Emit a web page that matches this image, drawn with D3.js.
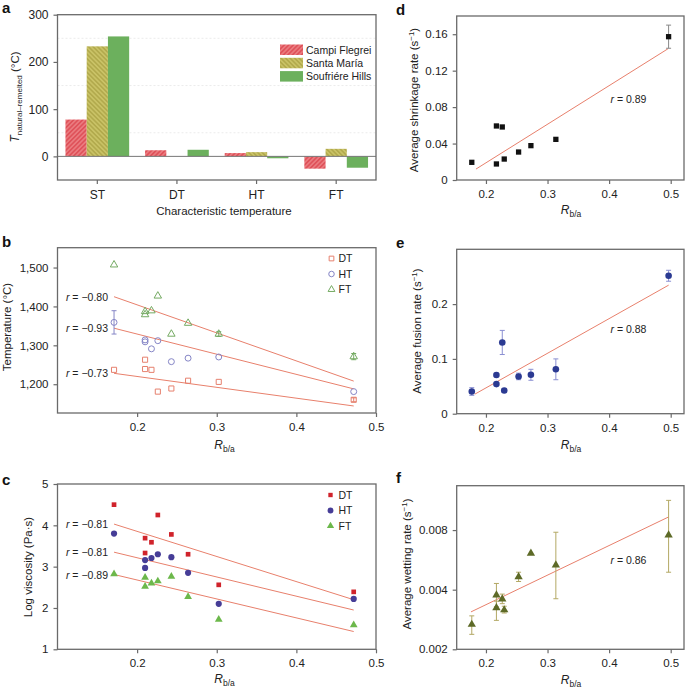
<!DOCTYPE html>
<html><head><meta charset="utf-8">
<script src="https://cdn.jsdelivr.net/npm/d3@7"></script>
<style>body{margin:0;background:#fff} svg text{font-family:"Liberation Sans",Arial,Helvetica,sans-serif}</style>
</head><body><svg id="c" width="685" height="690"></svg>
<script>
// ---------- DATA ----------
// panel a
const categoriesA = ["ST", "DT", "HT", "FT"];
const seriesA = ["Campi Flegrei", "Santa María", "Soufriére Hills"];
const campiFlegrei = [78, 13, 7, -26];
const santaMaria = [233, 0, 9, 16];
const soufriereHills = [254, 14, -4, -24];
const ticksA = [0, 100, 200, 300];
const gridA = [50, 150, 250];

// panels b, c (shared R_b/a of samples)
const rbaLeft = [0.171, 0.21, 0.21, 0.218, 0.226, 0.243, 0.264, 0.3025, 0.472];
const tempDT = [1237, 1263, 1239, 1237, 1181, 1189, 1209, 1206, 1160];
const tempHT = [1359, 1314, 1309, 1291, 1312, 1258, 1267, 1270, 1181];
const tempFT = [1507, 1387, 1379, 1389, 1427, 1329, 1357, 1329, 1271];
const tempDTerr = [0, 0, 0, 0, 0, 0, 0, 0, 5];
const tempHTerr = [30, 0, 0, 0, 0, 0, 0, 0, 0];
const tempFTerr = [0, 0, 0, 0, 0, 0, 0, 6, 8];
const fitXLeft = [0.171, 0.472];
const fitTempFT = [1425, 1208];
const fitTempHT = [1344, 1188];
const fitTempDT = [1228, 1144];
const rTemp = ["r = −0.80", "r = −0.93", "r = −0.73"];
const ticksTemp = [1200, 1300, 1400, 1500];

const viscDT = [4.50, 3.69, 3.33, 3.59, 4.25, 3.78, 3.30, 2.56, 2.39];
const viscHT = [3.80, 3.16, 2.97, 3.21, 3.30, 3.23, 2.85, 2.10, 2.22];
const viscFT = [2.82, 2.74, 2.52, 2.60, 2.65, 2.76, 2.27, 1.72, 1.59];
const fitViscDT = [4.03, 2.20];
const fitViscHT = [3.35, 1.95];
const fitViscFT = [2.81, 1.43];
const rVisc = ["r = −0.81", "r = −0.81", "r = −0.89"];
const ticksVisc = [1, 2, 3, 4, 5];
const ticksRbaLeft = [0.2, 0.3, 0.4, 0.5];
const legendLeft = ["DT", "HT", "FT"];

// panels d, e, f
const rbaRight = [0.177, 0.217, 0.217, 0.2265, 0.2297, 0.253, 0.273, 0.3135, 0.4966];
const shrink = [0.0194, 0.0176, 0.0593, 0.0582, 0.023, 0.0307, 0.0377, 0.0446, 0.1573];
const shrinkErr = [0, 0, 0, 0, 0, 0, 0, 0, 0.0127];
const fitShrinkX = [0.1838, 0.4955];
const fitShrink = [0.012, 0.144];
const ticksShrink = [0, 0.04, 0.08, 0.12, 0.16];

const fusion = [0.0405, 0.054, 0.0707, 0.130, 0.0424, 0.068, 0.071, 0.081, 0.2517];
const fusionErr = [0.007, 0.003, 0.003, 0.022, 0.003, 0.006, 0.01, 0.019, 0.01];
const fitFusionX = [0.182, 0.4967];
const fitFusion = [0.0357, 0.2346];
const ticksFusion = [0, 0.1, 0.2];

const wetting = [0.00267, 0.00324, 0.00376, 0.00359, 0.00316, 0.00465, 0.0061, 0.00532, 0.00754];
const wettingLo = [0.00238, 0.0028, 0.00328, 0.0034, 0.00305, 0.0044, 0.0061, 0.0036, 0.0049];
const wettingHi = [0.00295, 0.0035, 0.0043, 0.0038, 0.0033, 0.0049, 0.0061, 0.0078, 0.0113];
const fitWettingX = [0.1757, 0.4967];
const fitWetting = [0.00309, 0.00932];
const ticksWetting = [0.002, 0.004, 0.008];
const ticksRbaRight = [0.2, 0.3, 0.4, 0.5];
const rRight = ["r = 0.89", "r = 0.88", "r = 0.86"];

// ---------- DRAWING ----------
const svg = d3.select("#c");
const FONT = '"Liberation Sans", Arial, Helvetica, sans-serif';
const FRAME = "#6a6a6a";
const TXT = "#222";
const FIT = "#e8806c";

const defs = svg.append("defs");
function hatch(id, base, stripe, angle) {
  const p = defs.append("pattern").attr("id", id).attr("patternUnits", "userSpaceOnUse")
    .attr("width", 3.2).attr("height", 3.2).attr("patternTransform", `rotate(${angle})`);
  p.append("rect").attr("width", 3.2).attr("height", 3.2).attr("fill", base);
  p.append("line").attr("x1", 0.8).attr("y1", 0).attr("x2", 0.8).attr("y2", 3.2)
    .attr("stroke", stripe).attr("stroke-width", 1.1);
}
hatch("hCF", "#df525a", "#ef8d90", 45);
hatch("hSM", "#c9c266", "#a89f42", -45);
const fillsA = ["url(#hCF)", "url(#hSM)", "#6cb05d"];

function frame(L, T, R, B) {
  svg.append("rect").attr("x", L).attr("y", T).attr("width", R - L).attr("height", B - T)
    .attr("fill", "none").attr("stroke", FRAME).attr("stroke-width", 1.3);
}
function styleAxis(g) {
  g.select(".domain").remove();
  g.attr("font-family", FONT).attr("font-size", 11.5);
  g.selectAll(".tick line").attr("stroke", FRAME).attr("stroke-width", 1.2);
  g.selectAll(".tick text").attr("fill", TXT);
}
function panelLetter(s, x, y) {
  svg.append("text").attr("x", x).attr("y", y).attr("font-size", 15).attr("font-weight", "bold")
    .attr("fill", "#111").text(s);
}
function rbaTitle(cx, y) {
  const t = svg.append("text").attr("x", cx).attr("y", y).attr("text-anchor", "middle")
    .attr("font-size", 12).attr("fill", TXT);
  t.append("tspan").attr("font-style", "italic").text("R");
  t.append("tspan").attr("font-size", 8.5).attr("dy", 3).text("b/a");
}
function yTitle(x, cy, parts) {
  const t = svg.append("text").attr("transform", `translate(${x},${cy}) rotate(-90)`)
    .attr("text-anchor", "middle").attr("font-size", 11.5).attr("fill", TXT);
  parts.forEach(p => {
    const s = t.append("tspan").text(p.t);
    if (p.i) s.attr("font-style", "italic");
    if (p.fs) s.attr("font-size", p.fs);
    if (p.dy) s.attr("dy", p.dy);
  });
}
const fmt2 = d => d === 0 ? "0" : String(d);

// ===== Panel a =====
{
  const L = 57.5, T = 14.7, R = 376, B = 180;
  const x = d3.scaleBand().domain(categoriesA).range([L, R]).padding(0);
  const xs = d3.scaleBand().domain(seriesA).range([0, x.bandwidth()]).paddingOuter(0.375).paddingInner(0);
  const y = d3.scaleLinear().domain([-50, 300]).range([B, T]);
  svg.append("g").selectAll("line").data(gridA).join("line")
    .attr("x1", L).attr("x2", R).attr("y1", d => y(d)).attr("y2", d => y(d))
    .attr("stroke", "#e6e6e6").attr("stroke-width", 0.8).attr("stroke-dasharray", "2,2");
  const vals = [campiFlegrei, santaMaria, soufriereHills];
  seriesA.forEach((s, si) => {
    svg.append("g").selectAll("rect").data(categoriesA).join("rect")
      .attr("x", (c) => x(c) + xs(s))
      .attr("width", xs.bandwidth())
      .attr("y", (c, i) => y(Math.max(0, vals[si][i])))
      .attr("height", (c, i) => Math.abs(y(vals[si][i]) - y(0)))
      .attr("fill", fillsA[si]);
  });
  svg.append("line").attr("x1", L).attr("x2", R).attr("y1", y(0)).attr("y2", y(0))
    .attr("stroke", "#777").attr("stroke-width", 1);
  const gx = svg.append("g").attr("transform", `translate(0,${B})`)
    .call(d3.axisBottom(x).tickSize(4).tickPadding(6));
  styleAxis(gx); gx.attr("font-size", 12);
  const gy = svg.append("g").attr("transform", `translate(${L},0)`)
    .call(d3.axisLeft(y).tickValues(ticksA).tickSize(4).tickPadding(5).tickFormat(d3.format("d")));
  styleAxis(gy); gy.attr("font-size", 12);
  frame(L, T, R, B);
  // legend
  const lg = svg.append("g");
  seriesA.forEach((s, i) => {
    lg.append("rect").attr("x", 280).attr("y", 44.5 + i * 13.3).attr("width", 23).attr("height", 10.5)
      .attr("fill", fillsA[i]);
    lg.append("text").attr("x", 306).attr("y", 53.5 + i * 13.3).attr("font-size", 10.5)
      .attr("fill", TXT).text(s);
  });
  svg.append("text").attr("x", 224).attr("y", 215).attr("text-anchor", "middle")
    .attr("font-size", 11.5).attr("fill", TXT).text("Characteristic temperature");
  yTitle(19, 97, [{t: "T", i: true, fs: 12}, {t: "natural–remelted", fs: 8, dy: 3}, {t: " (°C)", dy: -3}]);
  panelLetter("a", 2, 13);
}

// ===== generic scatter =====
function symbolPath(type, size) { return d3.symbol().type(type).size(size)(); }

// ===== Panel b =====
{
  const L = 57.5, T = 247.7, R = 376, B = 413;
  const x = d3.scaleLinear().domain([0.1, 0.5]).range([L, R]);
  const y = d3.scaleLinear().domain([1126, 1551]).range([B, T]);
  const cols = ["#e6806e", "#8585c6", "#74aa62"];
  const types = [d3.symbolSquare, d3.symbolCircle, d3.symbolTriangle];
  const sizes = [26, 28, 24];
  const ser = [tempDT, tempHT, tempFT];
  const errs = [tempDTerr, tempHTerr, tempFTerr];
  // fits
  const fits = [fitTempFT, fitTempHT, fitTempDT];
  fits.forEach((f, i) => {
    svg.append("line").attr("x1", x(fitXLeft[0])).attr("x2", x(fitXLeft[1]))
      .attr("y1", y(f[0])).attr("y2", y(f[1])).attr("stroke", FIT).attr("stroke-width", 1);
    const t = svg.append("text").attr("x", 108).attr("y", y(f[0]) + 4).attr("text-anchor", "end")
      .attr("font-size", 10.5).attr("fill", TXT);
    t.append("tspan").attr("font-style", "italic").text("r");
    t.append("tspan").text(rTemp[i].slice(1));
  });
  ser.forEach((s, si) => {
    const g = svg.append("g");
    s.forEach((v, i) => {
      if (errs[si][i] > 0) {
        const cx = x(rbaLeft[i]), y0 = y(v - errs[si][i]), y1 = y(v + errs[si][i]);
        g.append("path").attr("d", `M${cx},${y0}V${y1}M${cx - 2.5},${y0}H${cx + 2.5}M${cx - 2.5},${y1}H${cx + 2.5}`)
          .attr("stroke", cols[si]).attr("stroke-width", 1).attr("fill", "none");
      }
    });
    g.selectAll("path.m").data(s).join("path").attr("class", "m")
      .attr("d", symbolPath(types[si], sizes[si]))
      .attr("transform", (d, i) => `translate(${x(rbaLeft[i])},${y(d)})`)
      .attr("fill", "none").attr("stroke", cols[si]).attr("stroke-width", 1);
  });
  const gx = svg.append("g").attr("transform", `translate(0,${B})`)
    .call(d3.axisBottom(x).tickValues(ticksRbaLeft).tickSize(4).tickPadding(6).tickFormat(fmt2));
  styleAxis(gx);
  const gy = svg.append("g").attr("transform", `translate(${L},0)`)
    .call(d3.axisLeft(y).tickValues(ticksTemp).tickSize(4).tickPadding(5).tickFormat(d3.format(",")));
  styleAxis(gy);
  frame(L, T, R, B);
  legendLeft.forEach((s, i) => {
    svg.append("path").attr("d", symbolPath(types[i], sizes[i] - 4))
      .attr("transform", `translate(331.5,${258.5 + i * 15.5})`)
      .attr("fill", "none").attr("stroke", cols[i]).attr("stroke-width", 1);
    svg.append("text").attr("x", 338.5).attr("y", 262.3 + i * 15.5).attr("font-size", 10.5)
      .attr("fill", TXT).text(s);
  });
  rbaTitle(224.5, 449);
  yTitle(11, 327, [{t: "Temperature (°C)"}]);
  panelLetter("b", 2, 247);
}

// ===== Panel c =====
{
  const L = 57.5, T = 484, R = 376, B = 649.3;
  const x = d3.scaleLinear().domain([0.1, 0.5]).range([L, R]);
  const y = d3.scaleLinear().domain([1, 5]).range([B, T]);
  const cols = ["#d0232b", "#463d97", "#6cb84b"];
  const types = [d3.symbolSquare, d3.symbolCircle, d3.symbolTriangle];
  const sizes = [22, 30, 26];
  const ser = [viscDT, viscHT, viscFT];
  const fits = [fitViscDT, fitViscHT, fitViscFT];
  fits.forEach((f, i) => {
    svg.append("line").attr("x1", x(fitXLeft[0])).attr("x2", x(fitXLeft[1]))
      .attr("y1", y(f[0])).attr("y2", y(f[1])).attr("stroke", FIT).attr("stroke-width", 1);
    const t = svg.append("text").attr("x", 108).attr("y", y(f[0]) + 4).attr("text-anchor", "end")
      .attr("font-size", 10.5).attr("fill", TXT);
    t.append("tspan").attr("font-style", "italic").text("r");
    t.append("tspan").text(rVisc[i].slice(1));
  });
  ser.forEach((s, si) => {
    svg.append("g").selectAll("path").data(s).join("path")
      .attr("d", symbolPath(types[si], sizes[si]))
      .attr("transform", (d, i) => `translate(${x(rbaLeft[i])},${y(d)})`)
      .attr("fill", cols[si]);
  });
  const gx = svg.append("g").attr("transform", `translate(0,${B})`)
    .call(d3.axisBottom(x).tickValues(ticksRbaLeft).tickSize(4).tickPadding(6).tickFormat(fmt2));
  styleAxis(gx);
  const gy = svg.append("g").attr("transform", `translate(${L},0)`)
    .call(d3.axisLeft(y).tickValues(ticksVisc).tickSize(4).tickPadding(5).tickFormat(d3.format("d")));
  styleAxis(gy);
  frame(L, T, R, B);
  legendLeft.forEach((s, i) => {
    svg.append("path").attr("d", symbolPath(types[i], sizes[i] - 3))
      .attr("transform", `translate(330.5,${495 + i * 15.5})`).attr("fill", cols[i]);
    svg.append("text").attr("x", 338.5).attr("y", 498.8 + i * 15.5).attr("font-size", 10.5)
      .attr("fill", TXT).text(s);
  });
  rbaTitle(224.5, 683);
  yTitle(31.5, 567, [{t: "Log viscosity (Pa·s)"}]);
  panelLetter("c", 2, 485);
}

// ===== right panels =====
function rightPanel(opt) {
  const L = 456.7, R = 684, T = opt.T, B = opt.B;
  const x = d3.scaleLinear().domain([0.1525, 0.5216]).range([L, R]);
  const y = opt.log ? d3.scaleLog().domain(opt.yd).range([B, T]) : d3.scaleLinear().domain(opt.yd).range([B, T]);
  svg.append("line").attr("x1", x(opt.fx[0])).attr("x2", x(opt.fx[1]))
    .attr("y1", y(opt.fy[0])).attr("y2", y(opt.fy[1])).attr("stroke", FIT).attr("stroke-width", 1);
  const g = svg.append("g");
  opt.vals.forEach((v, i) => {
    const lo = opt.lo[i], hi = opt.hi[i];
    if (hi - lo > 0) {
      const cx = x(rbaRight[i]), y0 = y(lo), y1 = y(hi);
      g.append("path").attr("d", `M${cx},${y0}V${y1}M${cx - 2.5},${y0}H${cx + 2.5}M${cx - 2.5},${y1}H${cx + 2.5}`)
        .attr("stroke", opt.errCol).attr("stroke-width", 1).attr("fill", "none");
    }
  });
  g.selectAll("path.m").data(opt.vals).join("path").attr("class", "m")
    .attr("d", symbolPath(opt.type, opt.size))
    .attr("transform", (d, i) => `translate(${x(rbaRight[i])},${y(d)})`)
    .attr("fill", opt.col);
  const t = svg.append("text").attr("x", 610.5).attr("y", opt.rY).attr("font-size", 10.5).attr("fill", TXT);
  t.append("tspan").attr("font-style", "italic").text("r");
  t.append("tspan").text(opt.r.slice(1));
  const gx = svg.append("g").attr("transform", `translate(0,${B})`)
    .call(d3.axisBottom(x).tickValues(ticksRbaRight).tickSize(4).tickPadding(6).tickFormat(fmt2));
  styleAxis(gx);
  const gy = svg.append("g").attr("transform", `translate(${L},0)`)
    .call(d3.axisLeft(y).tickValues(opt.yt).tickSize(4).tickPadding(5).tickFormat(opt.yf));
  styleAxis(gy);
  frame(L, T, R, B);
  rbaTitle(571, opt.xtY);
  yTitle(opt.ytX, opt.ytY, [{t: opt.title + " (s"}, {t: "−1", fs: 8, dy: -4}, {t: ")", dy: 4}]);
  panelLetter(opt.letter, 396, opt.letY);
}

rightPanel({
  T: 16, B: 180, yd: [0, 0.18], vals: shrink,
  lo: shrink.map((v, i) => v - shrinkErr[i]), hi: shrink.map((v, i) => v + shrinkErr[i]),
  fx: fitShrinkX, fy: fitShrink, yt: ticksShrink, yf: d => d === 0 ? "0" : d.toFixed(2),
  type: d3.symbolSquare, size: 28, col: "#111", errCol: "#888",
  r: rRight[0], rY: 103, xtY: 214, ytX: 418, ytY: 100, title: "Average shrinkage rate", letter: "d", letY: 15
});
rightPanel({
  T: 249.3, B: 413.7, yd: [0, 0.3], vals: fusion,
  lo: fusion.map((v, i) => v - fusionErr[i]), hi: fusion.map((v, i) => v + fusionErr[i]),
  fx: fitFusionX, fy: fitFusion, yt: ticksFusion, yf: d => d === 0 ? "0" : d.toFixed(1),
  type: d3.symbolCircle, size: 34, col: "#2b3a92", errCol: "#8a8fd2",
  r: rRight[1], rY: 333, xtY: 449, ytX: 421, ytY: 331, title: "Average fusion rate", letter: "e", letY: 248
});
rightPanel({
  T: 485.7, B: 649.3, log: true, yd: [0.002, 0.0134], vals: wetting,
  lo: wettingLo, hi: wettingHi,
  fx: fitWettingX, fy: fitWetting, yt: ticksWetting, yf: d => d.toFixed(3),
  type: d3.symbolTriangle, size: 30, col: "#5d6a27", errCol: "#b3a864",
  r: rRight[2], rY: 564, xtY: 684, ytX: 411, ytY: 564, title: "Average wetting rate", letter: "f", letY: 483
});
</script></body></html>
